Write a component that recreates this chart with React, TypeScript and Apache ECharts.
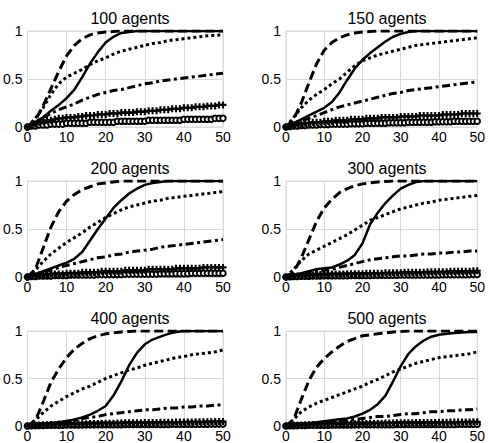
import React, { useEffect, useRef } from "react";
import * as echarts from "echarts";

// Sampled time steps for the curves (every 2 steps) and for the marker series (every step)
const T2 = [0, 2, 4, 6, 8, 10, 12, 14, 16, 18, 20, 22, 24, 26, 28, 30, 32, 34, 36, 38, 40, 42, 44, 46, 48, 50];
const T1 = [0, 1, 2, 3, 4, 5, 6, 7, 8, 9, 10, 11, 12, 13, 14, 15, 16, 17, 18, 19, 20, 21, 22, 23, 24, 25, 26, 27, 28, 29, 30, 31, 32, 33, 34, 35, 36, 37, 38, 39, 40, 41, 42, 43, 44, 45, 46, 47, 48, 49, 50];

const TITLES = ["100 agents", "150 agents", "200 agents", "300 agents", "400 agents", "500 agents"];
const X_TICKS = [0, 10, 20, 30, 40, 50];
const Y_TICKS = [0, 0.5, 1];

// 100 agents
const dashed100 = [0, 0.07, 0.22, 0.4, 0.58, 0.74, 0.85, 0.92, 0.96, 0.98, 0.99, 0.995, 1, 1, 1, 1, 1, 1, 1, 1, 1, 1, 1, 1, 1, 1];
const solid100 = [0, 0.05, 0.1, 0.17, 0.23, 0.3, 0.39, 0.52, 0.66, 0.78, 0.88, 0.94, 0.98, 0.99, 1, 1, 1, 1, 1, 1, 1, 1, 1, 1, 1, 1];
const dotted100 = [0, 0.09, 0.2, 0.34, 0.45, 0.52, 0.56, 0.6, 0.65, 0.69, 0.72, 0.76, 0.79, 0.81, 0.83, 0.85, 0.87, 0.88, 0.9, 0.91, 0.92, 0.93, 0.94, 0.95, 0.955, 0.96];
const dashDot100 = [0, 0.05, 0.1, 0.14, 0.18, 0.21, 0.24, 0.28, 0.31, 0.34, 0.36, 0.38, 0.39, 0.41, 0.43, 0.45, 0.46, 0.48, 0.49, 0.5, 0.51, 0.52, 0.53, 0.54, 0.55, 0.56];
const plus100 = [0, 0.02, 0.03, 0.05, 0.06, 0.07, 0.07, 0.08, 0.09, 0.09, 0.1, 0.1, 0.1, 0.11, 0.11, 0.12, 0.12, 0.12, 0.13, 0.13, 0.13, 0.14, 0.14, 0.14, 0.15, 0.15, 0.15, 0.15, 0.16, 0.16, 0.16, 0.17, 0.17, 0.17, 0.18, 0.18, 0.18, 0.19, 0.19, 0.19, 0.2, 0.2, 0.2, 0.21, 0.21, 0.21, 0.22, 0.22, 0.22, 0.23, 0.23];
const circle100 = [0, 0.01, 0.01, 0.02, 0.02, 0.02, 0.03, 0.03, 0.03, 0.03, 0.04, 0.04, 0.04, 0.04, 0.04, 0.04, 0.05, 0.05, 0.05, 0.05, 0.05, 0.05, 0.05, 0.06, 0.06, 0.06, 0.06, 0.06, 0.06, 0.06, 0.06, 0.07, 0.07, 0.07, 0.07, 0.07, 0.07, 0.07, 0.07, 0.07, 0.08, 0.08, 0.08, 0.08, 0.08, 0.08, 0.08, 0.08, 0.09, 0.09, 0.09];

// 150 agents
const dashed150 = [0, 0.08, 0.25, 0.46, 0.66, 0.8, 0.88, 0.93, 0.96, 0.98, 0.99, 0.995, 1, 1, 1, 1, 1, 1, 1, 1, 1, 1, 1, 1, 1, 1];
const solid150 = [0, 0.04, 0.08, 0.12, 0.16, 0.2, 0.26, 0.36, 0.49, 0.61, 0.7, 0.77, 0.83, 0.89, 0.94, 0.97, 0.99, 1, 1, 1, 1, 1, 1, 1, 1, 1];
const dotted150 = [0, 0.1, 0.2, 0.28, 0.34, 0.39, 0.45, 0.5, 0.57, 0.64, 0.69, 0.72, 0.75, 0.77, 0.79, 0.81, 0.83, 0.85, 0.86, 0.87, 0.88, 0.89, 0.9, 0.91, 0.92, 0.93];
const dashDot150 = [0, 0.03, 0.06, 0.09, 0.12, 0.15, 0.18, 0.21, 0.23, 0.25, 0.27, 0.29, 0.31, 0.33, 0.35, 0.36, 0.38, 0.39, 0.4, 0.41, 0.42, 0.43, 0.44, 0.45, 0.46, 0.47];
const plus150 = [0, 0.01, 0.02, 0.03, 0.03, 0.04, 0.04, 0.05, 0.05, 0.05, 0.06, 0.06, 0.06, 0.07, 0.07, 0.07, 0.07, 0.08, 0.08, 0.08, 0.08, 0.09, 0.09, 0.09, 0.09, 0.1, 0.1, 0.1, 0.1, 0.1, 0.11, 0.11, 0.11, 0.11, 0.11, 0.12, 0.12, 0.12, 0.12, 0.12, 0.12, 0.13, 0.13, 0.13, 0.13, 0.13, 0.14, 0.14, 0.14, 0.14, 0.14];
const circle150 = [0, 0.005, 0.01, 0.01, 0.015, 0.015, 0.02, 0.02, 0.02, 0.025, 0.025, 0.025, 0.03, 0.03, 0.03, 0.03, 0.03, 0.035, 0.035, 0.035, 0.035, 0.04, 0.04, 0.04, 0.04, 0.04, 0.04, 0.045, 0.045, 0.045, 0.045, 0.045, 0.05, 0.05, 0.05, 0.05, 0.05, 0.05, 0.05, 0.055, 0.055, 0.055, 0.055, 0.055, 0.06, 0.06, 0.06, 0.06, 0.06, 0.06, 0.06];

// 200 agents
const dashed200 = [0, 0.08, 0.3, 0.52, 0.68, 0.79, 0.86, 0.91, 0.94, 0.97, 0.98, 0.99, 1, 1, 1, 1, 1, 1, 1, 1, 1, 1, 1, 1, 1, 1];
const solid200 = [0, 0.03, 0.06, 0.09, 0.12, 0.15, 0.19, 0.26, 0.38, 0.5, 0.61, 0.72, 0.8, 0.87, 0.92, 0.96, 0.98, 0.99, 1, 1, 1, 1, 1, 1, 1, 1];
const dotted200 = [0, 0.07, 0.16, 0.24, 0.3, 0.36, 0.41, 0.46, 0.52, 0.57, 0.62, 0.66, 0.7, 0.73, 0.75, 0.77, 0.79, 0.8, 0.82, 0.83, 0.84, 0.85, 0.86, 0.87, 0.88, 0.89];
const dashDot200 = [0, 0.02, 0.05, 0.07, 0.1, 0.12, 0.14, 0.16, 0.18, 0.2, 0.21, 0.23, 0.24, 0.26, 0.27, 0.28, 0.29, 0.31, 0.32, 0.33, 0.34, 0.35, 0.36, 0.37, 0.38, 0.39];
const plus200 = [0, 0.01, 0.01, 0.02, 0.02, 0.02, 0.03, 0.03, 0.03, 0.03, 0.04, 0.04, 0.04, 0.04, 0.05, 0.05, 0.05, 0.05, 0.05, 0.06, 0.06, 0.06, 0.06, 0.06, 0.06, 0.07, 0.07, 0.07, 0.07, 0.07, 0.07, 0.08, 0.08, 0.08, 0.08, 0.08, 0.08, 0.08, 0.09, 0.09, 0.09, 0.09, 0.09, 0.09, 0.09, 0.1, 0.1, 0.1, 0.1, 0.1, 0.1];
const circle200 = [0, 0.005, 0.005, 0.01, 0.01, 0.01, 0.01, 0.015, 0.015, 0.015, 0.015, 0.02, 0.02, 0.02, 0.02, 0.02, 0.02, 0.02, 0.025, 0.025, 0.025, 0.025, 0.025, 0.025, 0.025, 0.03, 0.03, 0.03, 0.03, 0.03, 0.03, 0.03, 0.03, 0.03, 0.035, 0.035, 0.035, 0.035, 0.035, 0.035, 0.035, 0.035, 0.04, 0.04, 0.04, 0.04, 0.04, 0.04, 0.04, 0.04, 0.04];

// 300 agents
const dashed300 = [0, 0.05, 0.2, 0.39, 0.58, 0.72, 0.81, 0.88, 0.92, 0.95, 0.97, 0.98, 0.99, 0.995, 1, 1, 1, 1, 1, 1, 1, 1, 1, 1, 1, 1];
const solid300 = [0, 0.02, 0.04, 0.06, 0.08, 0.09, 0.1, 0.13, 0.17, 0.23, 0.35, 0.55, 0.67, 0.77, 0.85, 0.92, 0.96, 0.99, 1, 1, 1, 1, 1, 1, 1, 1];
const dotted300 = [0, 0.08, 0.17, 0.24, 0.28, 0.32, 0.36, 0.4, 0.44, 0.49, 0.54, 0.59, 0.62, 0.65, 0.68, 0.71, 0.73, 0.75, 0.77, 0.78, 0.8, 0.81, 0.82, 0.83, 0.84, 0.85];
const dashDot300 = [0, 0.01, 0.03, 0.05, 0.06, 0.07, 0.08, 0.1, 0.12, 0.14, 0.16, 0.18, 0.19, 0.2, 0.21, 0.22, 0.22, 0.23, 0.24, 0.24, 0.25, 0.25, 0.26, 0.26, 0.27, 0.27];
const plus300 = [0, 0.005, 0.01, 0.01, 0.015, 0.015, 0.02, 0.02, 0.02, 0.025, 0.025, 0.025, 0.03, 0.03, 0.03, 0.03, 0.035, 0.035, 0.035, 0.035, 0.035, 0.04, 0.04, 0.04, 0.04, 0.04, 0.045, 0.045, 0.045, 0.045, 0.045, 0.05, 0.05, 0.05, 0.05, 0.05, 0.05, 0.055, 0.055, 0.055, 0.055, 0.055, 0.055, 0.06, 0.06, 0.06, 0.06, 0.06, 0.06, 0.065, 0.065];
const circle300 = [0, 0.003, 0.005, 0.005, 0.007, 0.008, 0.008, 0.01, 0.01, 0.01, 0.012, 0.012, 0.012, 0.013, 0.013, 0.014, 0.014, 0.015, 0.015, 0.015, 0.016, 0.016, 0.016, 0.017, 0.017, 0.018, 0.018, 0.018, 0.019, 0.019, 0.02, 0.02, 0.02, 0.02, 0.021, 0.021, 0.021, 0.022, 0.022, 0.022, 0.022, 0.023, 0.023, 0.023, 0.024, 0.024, 0.024, 0.024, 0.025, 0.025, 0.025];

// 400 agents
const dashed400 = [0, 0.06, 0.25, 0.46, 0.6, 0.72, 0.81, 0.87, 0.92, 0.95, 0.97, 0.98, 0.99, 0.995, 1, 1, 1, 1, 1, 1, 1, 1, 1, 1, 1, 1];
const solid400 = [0, 0.01, 0.02, 0.03, 0.04, 0.05, 0.07, 0.09, 0.12, 0.16, 0.21, 0.32, 0.47, 0.64, 0.77, 0.86, 0.91, 0.94, 0.97, 0.99, 1, 1, 1, 1, 1, 1];
const dotted400 = [0, 0.06, 0.14, 0.21, 0.26, 0.31, 0.35, 0.39, 0.42, 0.46, 0.5, 0.53, 0.56, 0.59, 0.61, 0.64, 0.66, 0.68, 0.7, 0.72, 0.73, 0.75, 0.76, 0.77, 0.78, 0.8];
const dashDot400 = [0, 0.01, 0.02, 0.03, 0.04, 0.05, 0.06, 0.08, 0.09, 0.1, 0.12, 0.13, 0.14, 0.15, 0.16, 0.17, 0.17, 0.18, 0.19, 0.19, 0.2, 0.2, 0.21, 0.21, 0.22, 0.22];
const plus400 = [0, 0.004, 0.007, 0.01, 0.012, 0.014, 0.016, 0.017, 0.018, 0.019, 0.02, 0.021, 0.022, 0.023, 0.024, 0.025, 0.026, 0.027, 0.027, 0.028, 0.029, 0.03, 0.03, 0.031, 0.032, 0.033, 0.033, 0.034, 0.035, 0.035, 0.036, 0.037, 0.037, 0.038, 0.039, 0.039, 0.04, 0.04, 0.041, 0.042, 0.042, 0.043, 0.043, 0.044, 0.045, 0.045, 0.046, 0.046, 0.047, 0.048, 0.048];
const circle400 = [0, 0.002, 0.004, 0.005, 0.006, 0.007, 0.008, 0.008, 0.009, 0.009, 0.01, 0.01, 0.011, 0.011, 0.011, 0.012, 0.012, 0.012, 0.013, 0.013, 0.013, 0.014, 0.014, 0.014, 0.014, 0.015, 0.015, 0.015, 0.015, 0.016, 0.016, 0.016, 0.016, 0.017, 0.017, 0.017, 0.017, 0.018, 0.018, 0.018, 0.018, 0.018, 0.019, 0.019, 0.019, 0.019, 0.019, 0.02, 0.02, 0.02, 0.02];

// 500 agents
const dashed500 = [0, 0.07, 0.28, 0.48, 0.62, 0.71, 0.78, 0.84, 0.89, 0.92, 0.95, 0.96, 0.97, 0.98, 0.99, 0.995, 1, 1, 1, 1, 1, 1, 1, 1, 1, 1];
const solid500 = [0, 0.01, 0.02, 0.03, 0.04, 0.05, 0.06, 0.07, 0.08, 0.1, 0.13, 0.17, 0.23, 0.32, 0.47, 0.63, 0.76, 0.84, 0.9, 0.94, 0.96, 0.97, 0.98, 0.985, 0.99, 0.99];
const dotted500 = [0, 0.07, 0.15, 0.2, 0.24, 0.27, 0.3, 0.33, 0.36, 0.39, 0.42, 0.46, 0.49, 0.53, 0.57, 0.6, 0.63, 0.66, 0.68, 0.7, 0.72, 0.73, 0.74, 0.75, 0.76, 0.78];
const dashDot500 = [0, 0.01, 0.02, 0.025, 0.03, 0.035, 0.04, 0.05, 0.06, 0.07, 0.08, 0.09, 0.1, 0.1, 0.11, 0.12, 0.13, 0.13, 0.14, 0.15, 0.15, 0.16, 0.16, 0.17, 0.17, 0.18];
const plus500 = [0, 0.004, 0.007, 0.009, 0.011, 0.013, 0.014, 0.016, 0.017, 0.018, 0.019, 0.02, 0.021, 0.022, 0.022, 0.023, 0.024, 0.025, 0.025, 0.026, 0.027, 0.027, 0.028, 0.029, 0.029, 0.03, 0.031, 0.031, 0.032, 0.033, 0.033, 0.034, 0.034, 0.035, 0.036, 0.036, 0.037, 0.037, 0.038, 0.038, 0.039, 0.04, 0.04, 0.041, 0.041, 0.042, 0.042, 0.043, 0.043, 0.044, 0.045];
const circle500 = [0, 0.002, 0.003, 0.004, 0.005, 0.006, 0.007, 0.007, 0.008, 0.008, 0.009, 0.009, 0.01, 0.01, 0.01, 0.011, 0.011, 0.011, 0.012, 0.012, 0.012, 0.013, 0.013, 0.013, 0.013, 0.014, 0.014, 0.014, 0.014, 0.015, 0.015, 0.015, 0.015, 0.015, 0.016, 0.016, 0.016, 0.016, 0.016, 0.017, 0.017, 0.017, 0.017, 0.017, 0.017, 0.018, 0.018, 0.018, 0.018, 0.018, 0.018];

const DASHED = [dashed100, dashed150, dashed200, dashed300, dashed400, dashed500];
const SOLID = [solid100, solid150, solid200, solid300, solid400, solid500];
const DOTTED = [dotted100, dotted150, dotted200, dotted300, dotted400, dotted500];
const DASH_DOT = [dashDot100, dashDot150, dashDot200, dashDot300, dashDot400, dashDot500];
const PLUS = [plus100, plus150, plus200, plus300, plus400, plus500];
const CIRCLE = [circle100, circle150, circle200, circle300, circle400, circle500];

// Panel placement (pixels)
const COL_LEFT = [27, 286];
const ROW_TOP = [31, 181, 331];
const PLOT_W = 196;
const PLOT_H = 96;
const TITLE_TOP = [5, 155, 305];
const TITLE_CENTER = [125, 382];

const FONT = "'Liberation Sans', Arial, sans-serif";
const GRID_GRAY = "#d9d9d9";
const PLUS_SYMBOL = "path://M2.1,0H3.9V2.1H6V3.9H3.9V6H2.1V3.9H0V2.1H2.1Z";

const pairs = (xs: number[], ys: number[]) => xs.map((x, i) => [x, ys[i]]);

function buildOption() {
  const grid: any[] = [];
  const xAxis: any[] = [];
  const yAxis: any[] = [];
  const title: any[] = [];
  const series: any[] = [];

  TITLES.forEach((name, i) => {
    const col = i % 2;
    const row = Math.floor(i / 2);
    grid.push({
      left: COL_LEFT[col],
      top: ROW_TOP[row],
      width: PLOT_W,
      height: PLOT_H,
      show: true,
      borderColor: GRID_GRAY,
      borderWidth: 1,
      backgroundColor: "#fff",
    });
    title.push({
      text: name,
      left: TITLE_CENTER[col],
      top: TITLE_TOP[row],
      textAlign: "center",
      textStyle: { fontFamily: FONT, fontSize: 16, fontWeight: "normal", color: "#000" },
    });
    xAxis.push({
      type: "value",
      gridIndex: i,
      min: X_TICKS[0],
      max: X_TICKS[X_TICKS.length - 1],
      interval: X_TICKS[1] - X_TICKS[0],
      axisLine: { show: false },
      axisTick: { show: false },
      splitLine: { show: true, lineStyle: { color: GRID_GRAY, width: 1 } },
      axisLabel: { fontFamily: FONT, fontSize: 14, color: "#000", margin: 3 },
    });
    yAxis.push({
      type: "value",
      gridIndex: i,
      min: Y_TICKS[0],
      max: Y_TICKS[Y_TICKS.length - 1],
      interval: Y_TICKS[1] - Y_TICKS[0],
      axisLine: { show: false },
      axisTick: { show: false },
      splitLine: { show: true, lineStyle: { color: GRID_GRAY, width: 1 } },
      axisLabel: { fontFamily: FONT, fontSize: 14, color: "#000", margin: 5 },
    });

    const base = { type: "line", xAxisIndex: i, yAxisIndex: i, silent: true };
    series.push({
      ...base,
      data: pairs(T1, CIRCLE[i]),
      symbol: "emptyCircle",
      symbolSize: 5.5,
      itemStyle: { color: "#000", borderColor: "#000", borderWidth: 1.4 },
      lineStyle: { color: "#000", width: 1.4 },
    });
    series.push({
      ...base,
      data: pairs(T1, PLUS[i]),
      symbol: PLUS_SYMBOL,
      symbolSize: 7,
      itemStyle: { color: "#000" },
      lineStyle: { color: "#000", width: 1.4 },
    });
    series.push({
      ...base,
      data: pairs(T2, DASH_DOT[i]),
      symbol: "none",
      lineStyle: { color: "#000", width: 3, type: [8, 3.5, 3, 3.5], cap: "butt" },
    });
    series.push({
      ...base,
      data: pairs(T2, DOTTED[i]),
      symbol: "none",
      lineStyle: { color: "#000", width: 3, type: [3, 3], cap: "butt" },
    });
    series.push({
      ...base,
      data: pairs(T2, SOLID[i]),
      symbol: "none",
      lineStyle: { color: "#000", width: 2.5, type: "solid" },
    });
    series.push({
      ...base,
      data: pairs(T2, DASHED[i]),
      symbol: "none",
      lineStyle: { color: "#000", width: 3, type: [9, 4.5], cap: "butt" },
    });
  });

  return { animation: false, backgroundColor: "#fff", grid, xAxis, yAxis, title, series };
}

export default function App() {
  const ref = useRef<HTMLDivElement>(null);
  useEffect(() => {
    if (!ref.current) return;
    const chart = echarts.init(ref.current, undefined, { renderer: "svg" });
    chart.setOption(buildOption() as any);
    return () => chart.dispose();
  }, []);
  return (
    <div
      ref={ref}
      style={{ position: "fixed", left: 0, top: 0, width: 488, height: 443, background: "#fff" }}
    />
  );
}
